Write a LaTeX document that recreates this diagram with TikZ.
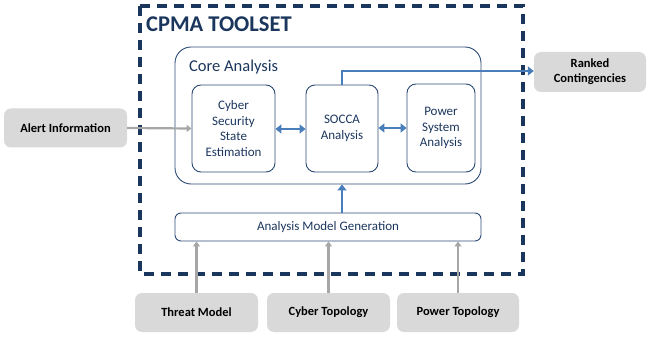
\documentclass[tikz,border=0pt]{standalone}
\usepackage{fontspec}
\setmainfont{Carlito}
\usetikzlibrary{arrows.meta}
\definecolor{navy}{HTML}{1B365D}
\definecolor{boxline}{HTML}{2C4A74}
\definecolor{bluearr}{HTML}{4A7EBB}
\definecolor{grayarr}{HTML}{A6A6A6}
\definecolor{grayfill}{HTML}{D9D9D9}
\tikzset{
  inbox/.style={draw=boxline, line width=0.9pt, rounded corners=9pt, text=navy, font=\fontsize{13}{15.5}\selectfont, align=center, inner sep=0pt},
  extbox/.style={fill=grayfill, draw=none, rounded corners=7pt, font=\fontsize{12.5}{15}\selectfont\bfseries, align=center, inner sep=0pt},
  bluearrow/.style={draw=bluearr, line width=2.6pt, -{Triangle[length=6pt,width=9pt]}},
  bluedbl/.style={draw=bluearr, line width=2.6pt, {Triangle[length=6pt,width=9pt]}-{Triangle[length=6pt,width=9pt]}},
  grayarrow/.style={draw=grayarr, line width=2.2pt, -{Triangle[length=5pt,width=7pt]}},
}
\begin{document}
\begin{tikzpicture}[x=1pt,y=-1pt]
\useasboundingbox (0,0) rectangle (649,337);
% dashed toolset frame
\draw[navy, line width=3.2pt, dash pattern=on 10pt off 7pt] (140,6) rectangle (523,274);
\node[anchor=west, text=navy, font=\fontsize{22.5}{26}\selectfont\bfseries, inner sep=0pt] (title) at (146,24) {CPMA TOOLSET};
% core analysis
\node[draw=boxline, line width=0.9pt, rounded corners=16pt, minimum width=306pt, minimum height=137pt, inner sep=0pt] (core) at (328,115.5) {};
\node[anchor=west, text=navy, font=\fontsize{16.5}{19}\selectfont, inner sep=0pt] (coretitle) at (189,67) {Core Analysis};
\node[inbox, minimum width=83pt, minimum height=87pt] (cse) at (233.5,128.5) {Cyber\\Security\\State\\Estimation};
\node[inbox, minimum width=72pt, minimum height=87pt] (socca) at (342,128.5) {SOCCA\\Analysis};
\node[inbox, minimum width=68pt, minimum height=88pt] (psa) at (441,128) {Power\\System\\Analysis};
% analysis model generation
\node[inbox, rounded corners=6pt, minimum width=306pt, minimum height=28pt] (amg) at (328,227) {Analysis Model Generation};
% external boxes
\node[extbox, minimum width=123pt, minimum height=39pt] (alert) at (65.5,128) {Alert Information};
\node[extbox, minimum width=112pt, minimum height=40pt] (ranked) at (590,72) {Ranked\\Contingencies};
\node[extbox, minimum width=123pt, minimum height=39pt] (threat) at (196.5,312.5) {Threat Model};
\node[extbox, minimum width=123pt, minimum height=39pt] (cyber) at (328.5,312.5) {Cyber Topology};
\node[extbox, minimum width=122pt, minimum height=39pt] (power) at (458,312.5) {Power Topology};
% connectors
\coordinate (bend) at (342,71);
\draw[grayarrow] (alert.east) -- (cse.west);
\draw[bluedbl] (cse.east |- 0,129) -- (socca.west |- 0,129);
\draw[bluedbl] (socca.east |- 0,128) -- (psa.west |- 0,128);
\draw[bluearrow] (socca.north) -- (bend) -- (ranked.west |- bend);
\draw[bluearrow] (amg.north -| socca) -- (core.south -| socca);
\draw[grayarrow] (threat.north) -- (threat.north |- amg.south);
\draw[grayarrow] (cyber.north) -- (cyber.north |- amg.south);
\draw[grayarrow] (power.north) -- (power.north |- amg.south);
\end{tikzpicture}
\end{document}
